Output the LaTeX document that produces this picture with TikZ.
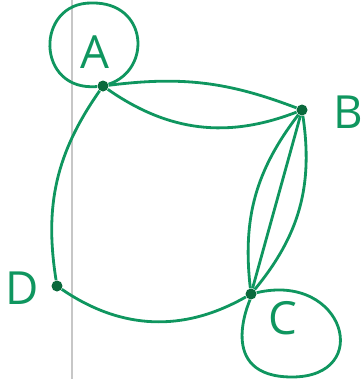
\documentclass[tikz,border=0pt]{standalone}
\usepackage{fontspec}
\setsansfont{Open Sans}
\usepackage{xcolor}
\usepackage{tikz}
\usetikzlibrary{calc}

\definecolor{pen}{RGB}{15,150,95}
\definecolor{dotc}{RGB}{10,105,60}

\begin{document}
\begin{tikzpicture}[x=0.02cm,y=-0.02cm,
    vertex/.style={circle,fill=dotc,inner sep=0pt,minimum size=0.22cm},
    edge/.style={pen,line width=1.6pt},
    lbl/.style={text=pen,font=\sffamily\fontsize{26}{26}\selectfont}]
\useasboundingbox (0,0) rectangle (362,379);

% margin rule of the paper
\draw[black!22,line width=1pt] (72,0) -- (72,379);

\node[vertex] (A) at (103,86) {};
\node[vertex] (B) at (302,110) {};
\node[vertex] (C) at (251,294) {};
\node[vertex] (D) at (57,286) {};

\node[lbl] (labA) at (95,52) {A};
\node[lbl] (labB) at (348,112) {B};
\node[lbl] (labC) at (283,318) {C};
\node[lbl] (labD) at (22,288) {D};

% far points of the loops
\coordinate (Atop) at (92,3);
\coordinate (Cbot) at (292,377);

% loops
\draw[edge] (A) .. controls (35,92) and (35,2) .. (Atop)
    .. controls (148,2) and (152,70) .. (A);
\draw[edge] (C) .. controls (345,272) and (374,377) .. (Cbot)
    .. controls (215,377) and (250,300) .. (C);

% A--B twice
\draw[edge] (A) to[bend left=14] (B);
\draw[edge] (A) to[bend right=28] (B);

% B--C three times
\draw[edge] (B) to[bend right=22] (C);
\draw[edge] (B) -- (C);
\draw[edge] (B) to[bend left=24] (C);

\draw[edge] (A) to[bend right=22] (D);
\draw[edge] (D) to[bend right=32] (C);
\end{tikzpicture}
\end{document}
